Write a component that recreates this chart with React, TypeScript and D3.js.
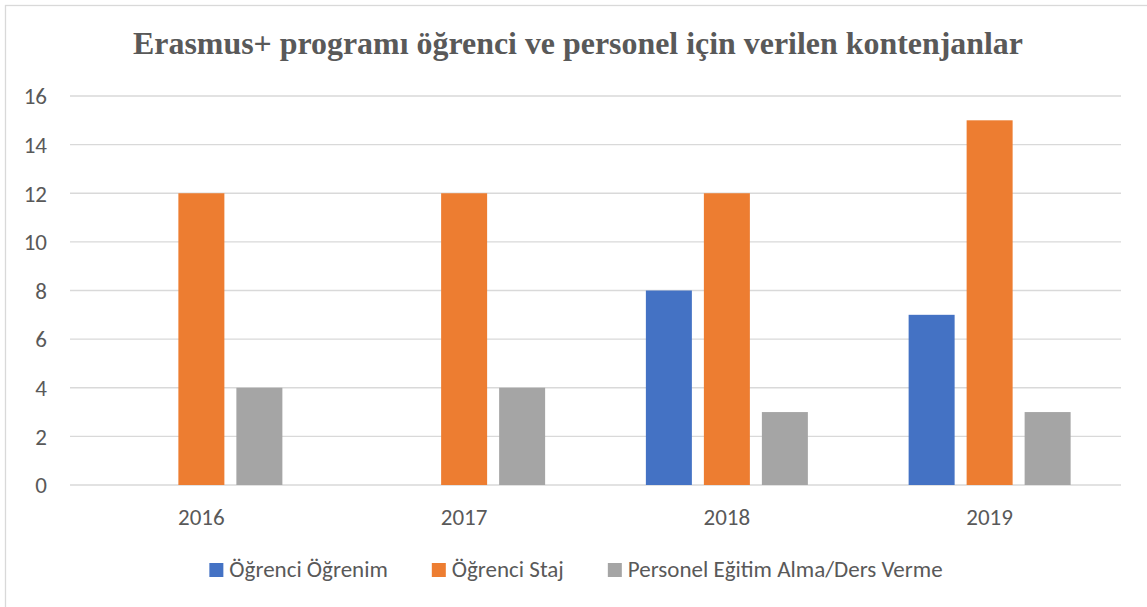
import React, { useEffect, useRef } from "react";
import * as d3 from "d3";

const categories = ["2016", "2017", "2018", "2019"];
const seriesNames = ["Öğrenci Öğrenim", "Öğrenci Staj", "Personel Eğitim Alma/Ders Verme"];
const ogrenciOgrenim = [0, 0, 8, 7];
const ogrenciStaj = [12, 12, 12, 15];
const personelEgitim = [4, 4, 3, 3];
const seriesColors = ["#4472C4", "#ED7D31", "#A5A5A5"];
const yTicks = [0, 2, 4, 6, 8, 10, 12, 14, 16];
const title = "Erasmus+ programı öğrenci ve personel için verilen kontenjanlar";

const W = 1147;
const H = 607;
const FONT = "Carlito, Calibri, Lato, 'Liberation Sans', sans-serif";
const TEXT = "#595959";

export default function App() {
  const ref = useRef<SVGSVGElement>(null);

  useEffect(() => {
    const svg = d3.select(ref.current);
    svg.selectAll("*").remove();

    const values = [ogrenciOgrenim, ogrenciStaj, personelEgitim];

    // chart border
    svg.append("rect")
      .attr("x", 5.5).attr("y", 5.5)
      .attr("width", W + 10).attr("height", H + 10)
      .attr("fill", "#fff").attr("stroke", "#D9D9D9").attr("stroke-width", 1.3);

    const plot = { left: 70, right: 1121, top: 96, bottom: 485 };

    const y = d3.scaleLinear().domain([0, 16]).range([plot.bottom, plot.top]);
    const x = d3.scaleBand<string>().domain(categories).range([plot.left, plot.right]).paddingInner(0).paddingOuter(0);
    const groupW = 162;
    const off = (x.bandwidth() - groupW) / 2;
    const xs = d3.scaleBand<string>().domain(seriesNames).range([off, off + groupW]).paddingInner(12 / 58).paddingOuter(0);

    // gridlines
    svg.append("g").selectAll("line").data(yTicks).join("line")
      .attr("x1", plot.left).attr("x2", plot.right)
      .attr("y1", d => y(d)).attr("y2", d => y(d))
      .attr("stroke", "#D9D9D9").attr("stroke-width", 1.3);

    // y tick labels
    svg.append("g").selectAll("text").data(yTicks).join("text")
      .attr("x", 47).attr("y", d => y(d)).attr("dy", "0.36em")
      .attr("text-anchor", "end")
      .attr("font-family", FONT).attr("font-size", 23).attr("fill", TEXT)
      .text(d => String(d));

    // bars
    seriesNames.forEach((s, si) => {
      svg.append("g").selectAll("rect").data(categories).join("rect")
        .attr("x", c => (x(c) as number) + (xs(s) as number))
        .attr("width", xs.bandwidth())
        .attr("y", (c, i) => y(values[si][i]))
        .attr("height", (c, i) => y(0) - y(values[si][i]))
        .attr("fill", seriesColors[si]);
    });

    // category labels
    svg.append("g").selectAll("text").data(categories).join("text")
      .attr("x", c => (x(c) as number) + x.bandwidth() / 2)
      .attr("y", 525)
      .attr("text-anchor", "middle")
      .attr("font-family", FONT).attr("font-size", 23).attr("fill", TEXT)
      .text(c => c);

    // title
    svg.append("text")
      .attr("x", 578).attr("y", 54)
      .attr("text-anchor", "middle")
      .attr("font-family", "'Liberation Serif', 'Times New Roman', serif")
      .attr("font-weight", "bold").attr("font-size", 31.5).attr("fill", TEXT)
      .attr("textLength", 890).attr("lengthAdjust", "spacingAndGlyphs")
      .text(title);

    // legend
    const lg = svg.append("g");
    const items = seriesNames.map((s, i) => {
      const g = lg.append("g");
      g.append("rect").attr("x", 0).attr("y", -14).attr("width", 14).attr("height", 14).attr("fill", seriesColors[i]);
      const t = g.append("text").attr("x", 20).attr("y", 0)
        .attr("font-family", FONT).attr("font-size", 23).attr("fill", TEXT).text(s);
      const w = 20 + (t.node() as SVGTextElement).getComputedTextLength();
      return { g, w };
    });
    const gap = 44;
    const total = items.reduce((a, b) => a + b.w, 0) + gap * (items.length - 1);
    let cx = 576 - total / 2;
    items.forEach(it => {
      it.g.attr("transform", `translate(${cx},577)`);
      cx += it.w + gap;
    });
  }, []);

  return (
    <svg ref={ref} width={W} height={H}
      style={{ position: "absolute", left: 0, top: 0, background: "#fff" }} />
  );
}
